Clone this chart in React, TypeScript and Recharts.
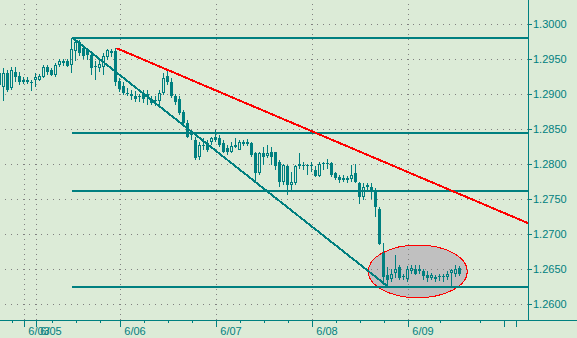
import { Bar, ComposedChart, ReferenceArea, ReferenceLine, XAxis, YAxis } from "recharts";

const TEAL = "#008080";
const RED = "#ff0000";
const BG = "#dcebd7";
const DOTS = "#808080";
const FONT = "'Liberation Sans', Arial, sans-serif";

// hourly bars, prices in pips (12930 = 1.2930)
const opens = [
  12930, 12911, 12931, 12909, 12932, 12926, 12920, 12921, 12918, 12920, 12921, 12925, 12939, 12935, 12928, 12942,
  12948, 12947, 12942, 12962, 12974, 12966, 12963, 12956, 12940, 12938, 12939, 12953, 12959, 12962, 12919, 12912,
  12902, 12901, 12897, 12897, 12900, 12897, 12893, 12892, 12890, 12902, 12926, 12918, 12898, 12893, 12875, 12859,
  12843, 12835, 12811, 12828, 12830, 12832, 12839, 12837, 12830, 12823, 12817, 12825, 12821, 12832, 12829, 12831,
  12816, 12787, 12816, 12812, 12817, 12817, 12804, 12775, 12798, 12770, 12773, 12800, 12799, 12797, 12799, 12792,
  12783, 12800, 12802, 12802, 12787, 12782, 12778, 12781, 12779, 12788, 12774, 12753, 12770, 12768, 12761, 12736,
  12674, 12642, 12636, 12645, 12654, 12640, 12636, 12648, 12650, 12647, 12648, 12642, 12637, 12639, 12640, 12639,
  12639, 12645, 12644, 12652,
];
const highs = [
  12937, 12937, 12935, 12939, 12939, 12932, 12924, 12925, 12920, 12930, 12929, 12942, 12942, 12937, 12944, 12950,
  12950, 12951, 12981, 12979, 12977, 12968, 12966, 12959, 12947, 12949, 12959, 12964, 12964, 12966, 12923, 12917,
  12909, 12906, 12904, 12901, 12906, 12906, 12897, 12897, 12906, 12931, 12934, 12923, 12901, 12897, 12878, 12863,
  12849, 12839, 12832, 12837, 12835, 12839, 12849, 12842, 12835, 12828, 12832, 12837, 12835, 12835, 12836, 12832,
  12818, 12818, 12825, 12828, 12825, 12818, 12806, 12801, 12799, 12789, 12799, 12816, 12804, 12801, 12804, 12797,
  12804, 12804, 12807, 12804, 12789, 12785, 12785, 12783, 12799, 12800, 12775, 12773, 12774, 12773, 12766, 12739,
  12687, 12654, 12651, 12670, 12656, 12644, 12655, 12656, 12656, 12656, 12651, 12647, 12645, 12642, 12643, 12643,
  12647, 12650, 12656, 12655,
];
const lows = [
  12911, 12891, 12903, 12906, 12918, 12913, 12915, 12915, 12904, 12911, 12919, 12923, 12928, 12926, 12925, 12939,
  12940, 12939, 12930, 12947, 12955, 12950, 12949, 12928, 12920, 12932, 12928, 12949, 12953, 12912, 12903, 12899,
  12897, 12892, 12889, 12889, 12887, 12885, 12885, 12883, 12885, 12899, 12913, 12894, 12885, 12870, 12854, 12838,
  12835, 12806, 12806, 12820, 12818, 12828, 12832, 12825, 12816, 12813, 12816, 12823, 12820, 12826, 12826, 12811,
  12773, 12785, 12799, 12809, 12799, 12792, 12768, 12770, 12756, 12763, 12770, 12794, 12792, 12785, 12789, 12782,
  12782, 12792, 12794, 12782, 12778, 12773, 12775, 12773, 12775, 12773, 12744, 12749, 12763, 12751, 12725, 12685,
  12628, 12625, 12632, 12637, 12635, 12635, 12632, 12644, 12642, 12644, 12635, 12632, 12635, 12632, 12634, 12632,
  12635, 12625, 12639, 12640,
];
const closes = [
  12913, 12931, 12906, 12934, 12925, 12917, 12917, 12917, 12917, 12925, 12926, 12939, 12932, 12928, 12942, 12947,
  12944, 12940, 12964, 12974, 12959, 12954, 12956, 12937, 12939, 12943, 12954, 12963, 12962, 12917, 12907, 12902,
  12901, 12897, 12893, 12896, 12893, 12901, 12887, 12890, 12902, 12923, 12918, 12898, 12889, 12873, 12859, 12839,
  12842, 12809, 12828, 12826, 12820, 12837, 12835, 12828, 12818, 12818, 12826, 12828, 12832, 12829, 12832, 12813,
  12788, 12816, 12811, 12816, 12811, 12797, 12775, 12799, 12770, 12775, 12797, 12797, 12797, 12799, 12797, 12783,
  12801, 12802, 12800, 12785, 12781, 12778, 12781, 12778, 12785, 12775, 12753, 12768, 12767, 12761, 12739, 12686,
  12639, 12635, 12644, 12650, 12637, 12639, 12650, 12652, 12644, 12650, 12640, 12637, 12642, 12636, 12639, 12640,
  12643, 12649, 12650, 12644,
];

const priceTicks = [1.26, 1.265, 1.27, 1.275, 1.28, 1.285, 1.29, 1.295, 1.3];
const dayTicks = [6, 9, 30, 54, 78, 102, 126, 129];
const dayLabels = ["6/03", "6/05", "6/06", "6/07", "6/08", "6/09", "", ""];
const hourTicks = [3, 13, 19, 25, 36, 42, 48, 60, 66, 72, 84, 90, 96, 110, 120];
const gridDays = [6, 9, 30, 54, 78, 102];

// fibonacci levels drawn from the swing high bar
const fibLevels = [1.2981, 1.2845, 1.2762, 1.2625];
const fibStart = 18;
const swingLine = [
  { x: 18, y: 1.2981 },
  { x: 97, y: 1.2625 },
];
const resistLine = [
  { x: 29, y: 1.2966 },
  { x: 131.9, y: 1.2716 },
];
const circleX = [92, 116.75];
const circleY = [1.26094, 1.26847];

const xDomain = [-0.075, 131.925];
const yDomain = [1.25776, 1.30347];

const data = opens.map((o, i) => ({
  i,
  open: o / 10000,
  high: highs[i] / 10000,
  low: lows[i] / 10000,
  close: closes[i] / 10000,
}));

function Candle(props: any) {
  const { x, y, width, height, payload } = props;
  const { open, high, low, close } = payload;
  const top = Math.min(y, y + height);
  const k = Math.abs(height) / (high - low || 1);
  const py = (v: number) => top + (high - v) * k;
  const cx = Math.floor(x + width / 2) + 0.5;
  const bTop = Math.round(py(Math.max(open, close)));
  const bBot = Math.round(py(Math.min(open, close)));
  const yh = py(high);
  const yl = py(low);
  if (close > open && bBot - bTop >= 2) {
    return (
      <g>
        <line x1={cx} x2={cx} y1={yh} y2={bTop} stroke={TEAL} />
        <line x1={cx} x2={cx} y1={bBot} y2={yl} stroke={TEAL} />
        <rect x={cx - 1} y={bTop + 0.5} width={2} height={bBot - bTop - 1} fill="none" stroke={TEAL} />
      </g>
    );
  }
  return (
    <g>
      <line x1={cx} x2={cx} y1={yh} y2={yl} stroke={TEAL} />
      <rect x={cx - 1.5} y={bTop} width={3} height={Math.max(1, bBot - bTop)} fill={TEAL} />
    </g>
  );
}

function DateTick(props: any) {
  const { x, y, payload } = props;
  const k = dayTicks.indexOf(payload.value);
  const major = k >= 0;
  return (
    <g>
      <line x1={x} x2={x} y1={y} y2={y + (major ? 7 : 3)} stroke={TEAL} />
      {major && dayLabels[k] ? (
        <text x={x + 4} y={y + 14.5} fill={TEAL} fontSize={11} fontFamily={FONT}>
          {dayLabels[k]}
        </text>
      ) : null}
    </g>
  );
}

function Ellipse(props: any) {
  const { x, y, width, height } = props;
  return (
    <ellipse
      cx={x + width / 2}
      cy={y + height / 2}
      rx={width / 2}
      ry={height / 2}
      fill="#c0c0c0"
      stroke={RED}
    />
  );
}

export default function App() {
  return (
    <div style={{ position: "relative", width: 577, height: 338, background: BG }}>
      <style>{"body{margin:0}.recharts-surface *{shape-rendering:crispEdges}"}</style>
      <ComposedChart width={577} height={338} data={data} margin={{ top: 0, right: 0, bottom: 0, left: 0 }}>
        <XAxis
          dataKey="i"
          type="number"
          domain={xDomain}
          allowDataOverflow
          ticks={[...dayTicks, ...hourTicks].sort((a, b) => a - b)}
          interval={0}
          tick={<DateTick />}
          tickLine={false}
          tickSize={0}
          tickMargin={0}
          axisLine={{ stroke: TEAL }}
          height={18}
        />
        <YAxis
          orientation="right"
          type="number"
          domain={yDomain}
          allowDataOverflow
          ticks={priceTicks}
          interval={0}
          width={49}
          tickFormatter={(v: number) => v.toFixed(4)}
          tick={{ fill: TEAL, fontSize: 11, fontFamily: FONT }}
          tickLine={{ stroke: TEAL }}
          tickSize={4}
          tickMargin={1}
          axisLine={{ stroke: TEAL }}
        />
        <ReferenceArea
          x1={circleX[0]}
          x2={circleX[1]}
          y1={circleY[0]}
          y2={circleY[1]}
          shape={<Ellipse />}
          zIndex={-200}
        />
        {priceTicks.map((t) => (
          <ReferenceLine key={"h" + t} y={t} stroke={DOTS} strokeDasharray="1 5" zIndex={-150} />
        ))}
        {gridDays.map((t) => (
          <ReferenceLine key={"v" + t} x={t} stroke={DOTS} strokeDasharray="1 4" zIndex={-150} />
        ))}
        <Bar
          dataKey={(d: any) => [d.low, d.high]}
          barSize={3}
          shape={<Candle />}
          isAnimationActive={false}
        />
        {fibLevels.map((lvl) => (
          <ReferenceLine
            key={"f" + lvl}
            segment={[
              { x: fibStart, y: lvl },
              { x: xDomain[1], y: lvl },
            ]}
            stroke={TEAL}
            strokeWidth={2}
          />
        ))}
        <ReferenceLine segment={swingLine} stroke={TEAL} strokeWidth={2} />
        <ReferenceLine segment={resistLine} stroke={RED} strokeWidth={2} />
      </ComposedChart>
      <div style={{ position: "absolute", left: 528, top: 320, width: 49, height: 1, background: TEAL }} />
    </div>
  );
}
